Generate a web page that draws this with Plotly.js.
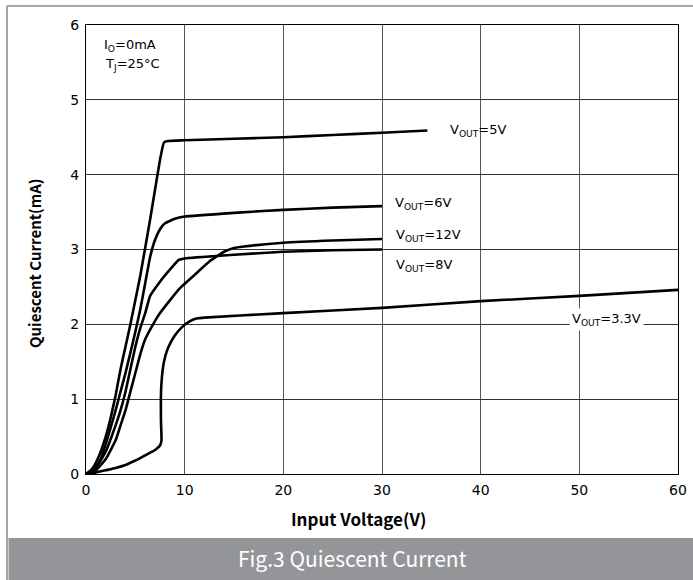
<!DOCTYPE html>
<html>
<head>
<meta charset="utf-8">
<script src="https://cdn.plot.ly/plotly-3.0.1.min.js"></script>
<style>html,body{margin:0;padding:0;background:#fff;}#chart{width:693px;height:580px;}</style>
</head>
<body>
<div id="chart"></div>
<script>
// Input voltage (V) and quiescent current (mA) for each output voltage
const x5 = [0,0.5,1,1.5,2,2.5,3,3.5,4,4.5,5.5,6.5,7.5,7.9,8.3,10,15,20,25,30,34.6];
const y5 = [0,0.05,0.15,0.3,0.5,0.75,1.05,1.4,1.7,2.0,2.65,3.4,4.2,4.43,4.45,4.46,4.48,4.5,4.53,4.56,4.59];

const x6 = [0,0.7,1.5,2,2.5,3,3.5,4,4.5,5,5.5,6,6.5,7,7.5,8,9,10,15,20,25,30];
const y6 = [0,0.05,0.2,0.4,0.62,0.85,1.1,1.35,1.62,1.9,2.2,2.55,2.9,3.13,3.27,3.35,3.41,3.44,3.49,3.53,3.56,3.58];

const x8 = [0,1,2,3,3.5,4,4.5,5,5.5,6,6.5,7.5,8.5,9.4,10,15,20,25,30];
const y8 = [0,0.08,0.3,0.65,0.85,1.1,1.4,1.7,1.95,2.15,2.38,2.57,2.73,2.86,2.88,2.93,2.97,2.99,3.0];

const x12 = [0,1,2,3,3.5,4,4.5,5,5.5,6,6.8,7.5,8.5,9.5,11,12.5,14,15,16,20,25,30];
const y12 = [0,0.05,0.2,0.45,0.65,0.85,1.1,1.35,1.6,1.8,2.0,2.15,2.32,2.48,2.66,2.84,2.97,3.02,3.04,3.09,3.12,3.14];

const x33 = [0,1,2,3,4,5,6,7,7.5,7.65,7.6,7.6,7.7,7.9,8.3,9,9.7,10.5,11.3,12,20,30,40,50,60];
const y33 = [0,0.02,0.05,0.08,0.12,0.18,0.25,0.32,0.38,0.45,0.7,1.08,1.3,1.5,1.68,1.85,1.96,2.04,2.08,2.09,2.15,2.22,2.31,2.38,2.46];

const xTicks = [0,10,20,30,40,50,60];
const yTicks = [0,1,2,3,4,5,6];

const lineStyle = {color:'#000', width:2.6, shape:'spline', smoothing:0.4};
function tr(x,y){ return {x:x, y:y, type:'scatter', mode:'lines', line:lineStyle, hoverinfo:'skip', showlegend:false}; }

const data = [tr(x5,y5), tr(x6,y6), tr(x8,y8), tr(x12,y12), tr(x33,y33)];

const labFont = {family:'DejaVu Sans, Verdana, sans-serif', size:13, color:'#000'};
function lab(x,y,t,bg){ return {x:x, y:y, xref:'x', yref:'y', text:t, showarrow:false, xanchor:'left', yanchor:'middle', font:labFont, bgcolor:bg||'rgba(0,0,0,0)', borderpad:2}; }

const bx = -79/592, by = 1+19/449, rx = (693-86)/592;
const layout = {
  width:693, height:580,
  margin:{l:86, r:15, t:25, b:106, pad:0},
  paper_bgcolor:'#fff', plot_bgcolor:'#fff',
  showlegend:false,
  xaxis:{range:[0,60], tickvals:xTicks, ticktext:xTicks.map(String), showgrid:true, gridcolor:'#555', gridwidth:1,
         zeroline:false, showline:true, linecolor:'#000', linewidth:1, mirror:true, ticks:'', ticklabelstandoff:3,
         tickfont:{family:'DejaVu Sans, Verdana, sans-serif', size:14, color:'#000'}, fixedrange:true},
  yaxis:{range:[0,6], tickvals:yTicks, ticktext:yTicks.map(String), showgrid:true, gridcolor:'#333', gridwidth:1,
         zeroline:false, showline:true, linecolor:'#000', linewidth:1, mirror:true, ticks:'', ticklabelstandoff:3,
         tickfont:{family:'DejaVu Sans, Verdana, sans-serif', size:14, color:'#000'}, fixedrange:true},
  shapes:[
    {type:'line', xref:'paper', yref:'paper', x0:bx, x1:bx, y0:-106/449, y1:by, line:{color:'#888', width:1.5}, layer:'below'},
    {type:'line', xref:'paper', yref:'paper', x0:bx, x1:rx, y0:by, y1:by, line:{color:'#888', width:1.5}, layer:'below'},
    {type:'rect', xref:'paper', yref:'paper', x0:bx+1.5/592, x1:rx, y0:-106/449, y1:-64/449, line:{width:0}, fillcolor:'#939598', layer:'above'}
  ],
  annotations:[
    lab(36.6,4.59,'V<sub>OUT</sub>=5V'),
    lab(31.0,3.62,'V<sub>OUT</sub>=6V'),
    lab(31.1,3.19,'V<sub>OUT</sub>=12V'),
    lab(31.1,2.78,'V<sub>OUT</sub>=8V'),
    lab(49.0,2.06,'V<sub>OUT</sub>=3.3V','#fff'),
    lab(1.5,5.73,'I<sub>O</sub>=0mA'),
    lab(1.6,5.47,'T<sub>J</sub>=25°C'),
    {xref:'paper', yref:'paper', x:(358-86)/592, y:-44/449, text:'<b>Input Voltage(V)</b>', showarrow:false, xanchor:'center', yanchor:'middle',
     font:{family:'Noto Sans CJK SC, Noto Sans, sans-serif', size:17, color:'#000'}},
    {xref:'paper', yref:'paper', x:-52/592, y:(474-263)/449, text:'<b>Quiescent Current(mA)</b>', showarrow:false, textangle:-90, xanchor:'center', yanchor:'middle',
     font:{family:'Noto Sans CJK SC, Noto Sans, sans-serif', size:15, color:'#000'}},
    {xref:'paper', yref:'paper', x:(352-86)/592, y:-84/449, text:'Fig.3 Quiescent Current', showarrow:false, xanchor:'center', yanchor:'middle',
     font:{family:'Noto Sans CJK SC, Noto Sans, sans-serif', size:21, color:'#fff'}}
  ]
};

Plotly.newPlot('chart', data, layout, {staticPlot:true, displayModeBar:false});
</script>
</body>
</html>
